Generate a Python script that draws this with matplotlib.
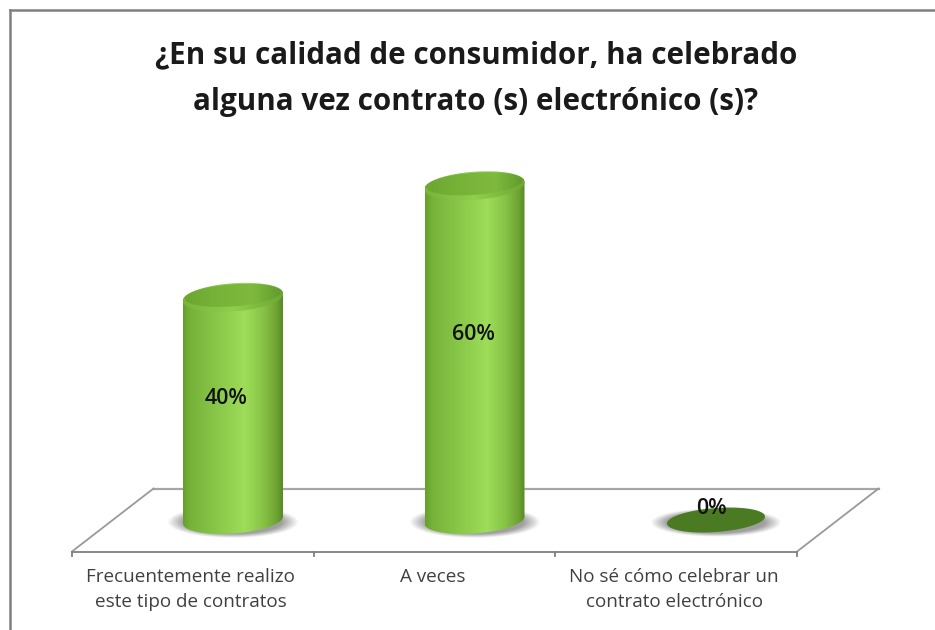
import matplotlib
matplotlib.use('Agg')
import matplotlib.pyplot as plt
import numpy as np
from matplotlib.colors import LinearSegmentedColormap
from matplotlib.patches import Polygon

W, H = 935, 630

title = '¿En su calidad de consumidor, ha celebrado\nalguna vez contrato (s) electrónico (s)?'
categories = ['Frecuentemente realizo\neste tipo de contratos', 'A veces',
              'No sé cómo celebrar un\ncontrato electrónico']
values = [40, 60, 0]
value_labels = ['40%', '60%', '0%']

# scale of the plot: pixels per category and per percent point
X0, DX = 233.0, 241.5
Y0, DY = 520.0, 5.58
R_X, R_Y, TILT = 50.0, 13.5, -0.07

plt.rcParams['font.family'] = ['Open Sans', 'DejaVu Sans']

fig = plt.figure(figsize=(W / 100, H / 100), dpi=100, facecolor='white')
ax = fig.add_axes([0, 0, 1, 1])
ax.axis('off')
xlim = ((0 - X0) / DX, (W - X0) / DX)
ylim = ((Y0 - H) / DY, Y0 / DY)


def ellipse(cat, val, a=R_X, b=R_Y, t0=0.0, t1=2 * np.pi, n=120):
    # arc of a tilted ellipse, offsets given in pixels
    t = np.linspace(t0, t1, n)
    dx = a * np.cos(t)
    dy = b * np.sin(t) + TILT * dx
    return np.column_stack([cat + dx / DX, val - dy / DY])


def soft_shadow(cat, val, a, b):
    # grey blurred ellipse lying on the floor
    xs = np.linspace(cat - 1.3 * a / DX, cat + 1.3 * a / DX, 160)
    ys = np.linspace(val - 1.5 * b / DY, val + 1.5 * b / DY, 90)
    gx, gy = np.meshgrid(xs, ys)
    r = np.sqrt(((gx - cat) * DX / a) ** 2 + ((gy - val) * DY / b) ** 2)
    alpha = np.clip((1.1 - r) / 0.28, 0, 1) * 0.65
    img = np.zeros(r.shape + (4,))
    img[..., :3] = 0.42
    img[..., 3] = alpha
    ax.imshow(img, extent=(xs[0], xs[-1], ys[0], ys[-1]), origin='lower',
              aspect='auto', zorder=3, interpolation='bilinear')


def gradient(cat, y0, y1, cmap, outline, z):
    # horizontal colour ramp clipped to a closed outline
    clip = Polygon(outline, closed=True, transform=ax.transData, fc='none', ec='none')
    ax.add_patch(clip)
    im = ax.imshow(grad, cmap=cmap, extent=(cat - R_X / DX, cat + R_X / DX, y0, y1),
                   aspect='auto', zorder=z)
    im.set_clip_path(clip)


body_cmap = LinearSegmentedColormap.from_list('body', [
    (0.00, '#659f2d'), (0.07, '#76b238'), (0.30, '#86c446'), (0.62, '#9edd59'),
    (0.80, '#88c447'), (0.94, '#6da332'), (1.00, '#578a26')])
top_cmap = LinearSegmentedColormap.from_list('top', [
    (0.00, '#6ba62f'), (0.40, '#79b43a'), (0.70, '#7fba3e'), (1.00, '#5f9a2b')])
rim_cmap = LinearSegmentedColormap.from_list('rim', [
    (0.00, '#7ab43a'), (0.50, '#90ce4e'), (1.00, '#6ea633')])
grad = np.linspace(0, 1, 256).reshape(1, -1)


def fig_line(xs, ys, color='#8c8c8c', lw=1.3):
    ax.plot(np.array(xs) / W, 1 - np.array(ys) / H, color=color, lw=lw,
            transform=fig.transFigure, clip_on=False, zorder=2)


# floor of the 3D plot, front edge carries the category ticks
front_l, step = 72.0, 241.7
front_r = front_l + 3 * step
back_shift, front_y, back_y = 81.5, 551.5, 488.5
fig_line([front_l, front_r], [front_y, front_y], color='#7f7f7f')
fig_line([front_l + back_shift, front_r + back_shift], [back_y, back_y], color='#a6a6a6', lw=1.6)
fig_line([front_l, front_l + back_shift], [front_y, back_y], color='#999999')
fig_line([front_r, front_r + back_shift], [front_y, back_y], color='#999999')
for i in range(4):
    tx = front_l + i * step
    fig_line([tx, tx], [front_y, front_y + 4], color='#7f7f7f')

# outer frame, open on the right and at the bottom
fig_line([9.5, 9.5], [H, 9.5], color='#808080', lw=1.8)
fig_line([9.5, W], [9.5, 9.5], color='#808080', lw=1.8)

for i, v in enumerate(values):
    soft_shadow(i, -0.4, 60, 14.5 if v > 0 else 13)
    if v > 0:
        # side of the cylinder: lower half of the base, then the far half of the top
        side = np.vstack([ellipse(i, 0, t0=0, t1=np.pi), ellipse(i, v, t0=np.pi, t1=2 * np.pi)])
        gradient(i, -4, v + 4, body_cmap, side, 4)
        # lower rim of the top face is lighter than the face itself
        gradient(i, v - 4, v + 4, rim_cmap, ellipse(i, v - 0.2), 5)
        gradient(i, v - 4, v + 4, top_cmap, ellipse(i, v + 0.25, R_X - 2, R_Y - 2.5), 6)
    else:
        ax.add_patch(Polygon(ellipse(i, 0, R_X - 1, 12), closed=True, fc='#4a7a22', ec='none', zorder=5))

label_dx = [-7, -1, -5]
label_y = [21.7, 33.3, 2.0]
for i, lab in enumerate(value_labels):
    ax.text(i + label_dx[i] / DX, label_y[i], lab, ha='center', va='center',
            fontsize=15.5, fontweight='semibold', color='#111111', zorder=8)

ax.set_xlim(*xlim)
ax.set_ylim(*ylim)

# category names hang from the same top line, so one-line names stay level
for i, lab in enumerate(categories):
    fig.text((front_l + (i + 0.5) * step - 2) / W, 1 - 568 / H, lab, ha='center', va='top',
             fontsize=13.6, color='#404040', linespacing=1.5)

fig.text(476 / W, 1 - 78.5 / H, title, ha='center', va='center', fontsize=21.3,
         fontweight='bold', color='#1a1a1a', linespacing=1.73)

fig.savefig('out.png', dpi=100, facecolor='white')
